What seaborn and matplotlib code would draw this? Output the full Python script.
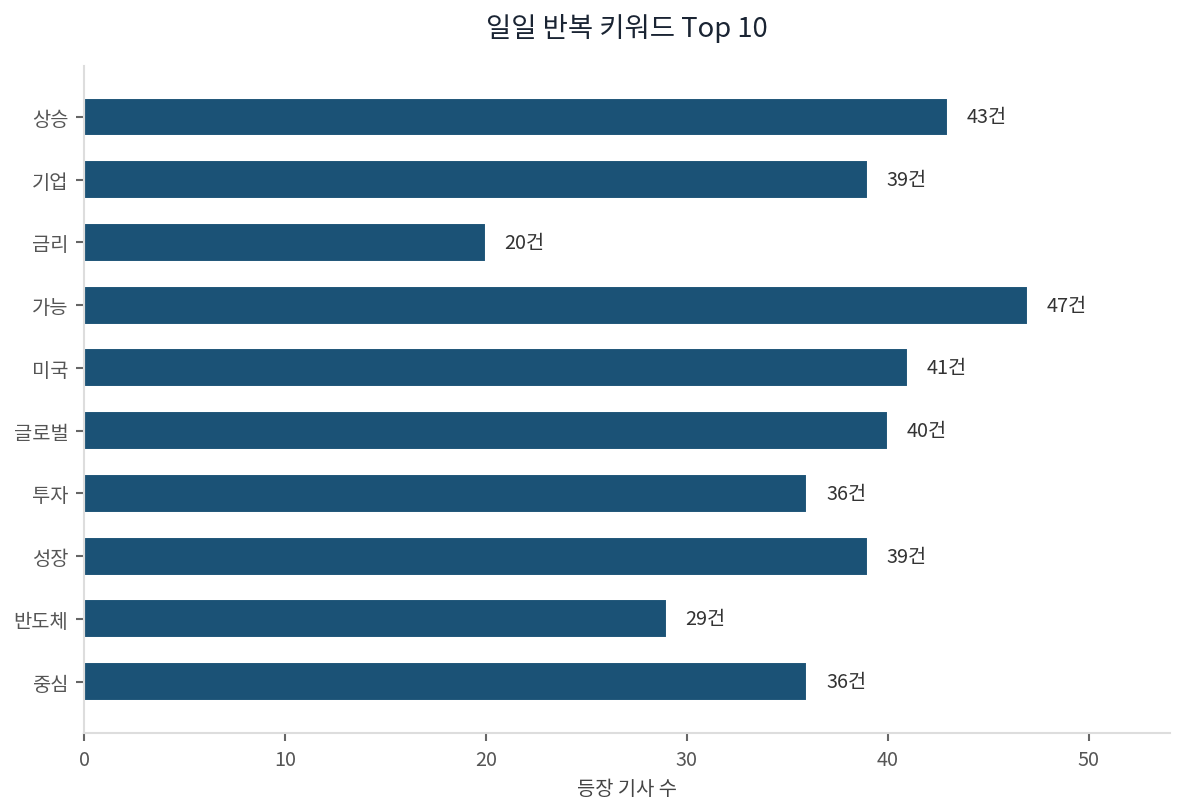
import pandas as pd
import matplotlib
matplotlib.use('Agg')
import matplotlib.pyplot as plt
import seaborn as sns

keywords = ['상승', '기업', '금리', '가능', '미국', '글로벌', '투자', '성장', '반도체', '중심']
counts = [43, 39, 20, 47, 41, 40, 36, 39, 29, 36]

df = pd.DataFrame({'keyword': keywords, 'count': counts})

sns.set_style('white')
plt.rcParams['font.family'] = ['Noto Sans CJK KR', 'DejaVu Sans']

fig = plt.figure(figsize=(7.9, 5.393), dpi=150)
ax = fig.add_axes([0.0709, 0.0927, 0.9164, 0.8251])

sns.barplot(data=df, y='keyword', x='count', orient='h', color='#1b5276',
            saturation=1, width=0.62, ax=ax)

for c in ax.containers:
    ax.bar_label(c, labels=[f'{v}건' for v in counts], padding=9,
                 fontsize=9.5, color='#333333')

ax.set_xlim(0, max(counts) * 1.15)
ax.set_ylim(9.82, -0.82)
ax.set_title('일일 반복 키워드 Top 10', fontsize=13.2, color='#1a2433', pad=14)
ax.set_xlabel('등장 기사 수', fontsize=9.5, color='#444444')
ax.set_ylabel('')

sns.despine(ax=ax)
for s in ['left', 'bottom']:
    ax.spines[s].set_color('#dddddd')
    ax.spines[s].set_linewidth(1)
ax.tick_params(axis='both', length=4, width=1, color='#666666',
               labelcolor='#555555', labelsize=9.5, left=True, bottom=True)

fig.savefig('out.png', dpi=150)
